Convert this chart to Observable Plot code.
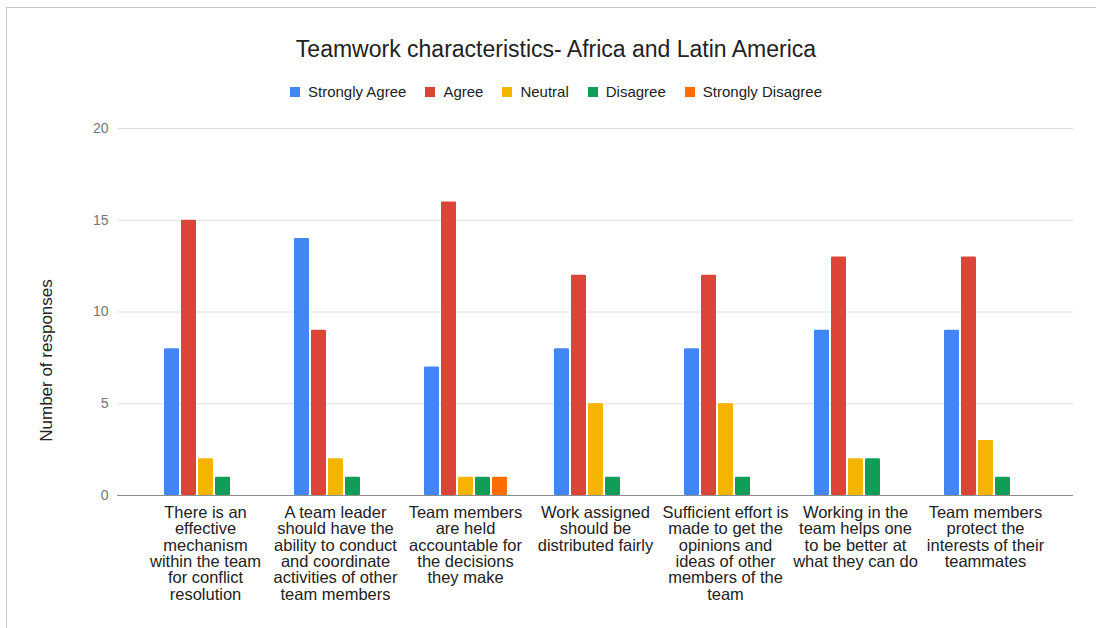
<!DOCTYPE html>
<html>
<head>
<meta charset="utf-8">
<script src="https://cdn.jsdelivr.net/npm/d3@7"></script>
<script src="https://cdn.jsdelivr.net/npm/@observablehq/plot@0.6"></script>
<style>
  body { margin: 0; background: #fff; font-family: "Liberation Sans", Arial, sans-serif; }
  #wrap { position: relative; width: 1096px; height: 628px; overflow: hidden; background: #fff; }
  #wrap svg { position: absolute; left: 0; top: 0; }
  #frame { position: absolute; left: 6px; top: 7px; width: 1200px; height: 800px;
           border-left: 1.5px solid #c6c6c6; border-top: 1.5px solid #c6c6c6; }
  #title { position: absolute; left: 0; top: 38px; width: 1112px; text-align: center;
           font-size: 23px; line-height: 23px; color: #222; }
  #legend { position: absolute; left: 0; top: 85px; width: 1112px; display: flex;
            justify-content: center; align-items: center; font-size: 15px; line-height: 14px; color: #222; }
  #legend .item { display: flex; align-items: center; margin: 0 9.5px; }
  #legend .sw { width: 10px; height: 10px; margin-right: 8px; }
</style>
</head>
<body>
<div id="wrap">
  <div id="frame"></div>
  <div id="title">Teamwork characteristics- Africa and Latin America</div>
  <div id="legend"></div>
</div>
<script>
// Survey statements (tick labels, wrapped as shown under each group)
const categories = [
  "There is an\neffective\nmechanism\nwithin the team\nfor conflict\nresolution",
  "A team leader\nshould have the\nability to conduct\nand coordinate\nactivities of other\nteam members",
  "Team members\nare held\naccountable for\nthe decisions\nthey make",
  "Work assigned\nshould be\ndistributed fairly",
  "Sufficient effort is\nmade to get the\nopinions and\nideas of other\nmembers of the\nteam",
  "Working in the\nteam helps one\nto be better at\nwhat they can do",
  "Team members\nprotect the\ninterests of their\nteammates"
];

const series = ["Strongly Agree", "Agree", "Neutral", "Disagree", "Strongly Disagree"];
const colors = ["#4285f4", "#db4437", "#f4b400", "#0f9d58", "#ff6d01"];

// Number of responses per statement, one array per answer
const stronglyAgree    = [8, 14, 7, 8, 8, 9, 9];
const agree            = [15, 9, 16, 12, 12, 13, 13];
const neutral          = [2, 2, 1, 5, 5, 2, 3];
const disagree         = [1, 1, 1, 1, 1, 2, 1];
const stronglyDisagree = [0, 0, 1, 0, 0, 0, 0];

const yTicks = [0, 5, 10, 15, 20];
const yTitle = "Number of responses";

const valuesBySeries = [stronglyAgree, agree, neutral, disagree, stronglyDisagree];
const rows = categories.flatMap((category, i) =>
  series.map((s, j) => ({category, series: s, value: valuesBySeries[j][i]}))
);

// Shared layout
const W = 1096, H = 628;
const margins = {marginTop: 128, marginBottom: 133, marginLeft: 117, marginRight: 23};
const groupBand = {type: "band", paddingInner: 0.338, paddingOuter: 0.338, align: 0.5};
const font = '"Liberation Sans", Arial, sans-serif';

// Legend
const legend = document.getElementById("legend");
series.forEach((s, i) => {
  const item = document.createElement("div");
  item.className = "item";
  const sw = document.createElement("span");
  sw.className = "sw";
  sw.style.background = colors[i];
  const label = document.createElement("span");
  label.textContent = s;
  item.append(sw, label);
  legend.append(item);
});

// Background layer: grid, baseline, value axis and statement labels
const back = Plot.plot({
  width: W, height: H, ...margins,
  style: {fontFamily: font, background: "transparent"},
  x: {domain: categories, ...groupBand, axis: null},
  y: {domain: [0, 20], axis: null},
  marks: [
    Plot.ruleY(yTicks.filter(d => d > 0), {stroke: "#dedede", strokeWidth: 1}),
    Plot.ruleY([0], {stroke: "#8c8c8c", strokeWidth: 1.2}),
    Plot.text(yTicks, {
      y: d => d, text: d => String(d), frameAnchor: "left", textAnchor: "end",
      dx: -9, fontSize: 14, fill: "#757575"
    }),
    Plot.text(categories, {
      x: d => d, text: d => d, frameAnchor: "bottom", lineAnchor: "top",
      dy: 11, fontSize: 16.5, lineHeight: 0.99, fill: "#222"
    }),
    Plot.text([yTitle], {
      text: d => d, frameAnchor: "left", textAnchor: "middle", rotate: -90,
      dx: -71, dy: 48.5, fontSize: 17, fill: "#222"
    })
  ]
});

// Bars, grouped by statement
const bars = Plot.plot({
  width: W, height: H, ...margins,
  style: {fontFamily: font, background: "transparent"},
  fx: {domain: categories, ...groupBand, axis: null, label: null},
  x: {domain: series, paddingInner: 0.13, paddingOuter: 0.02, axis: null},
  y: {domain: [0, 20], axis: null},
  color: {domain: series, range: colors},
  marks: [
    Plot.barY(rows, {fx: "category", x: "series", y: "value", fill: "series", rx: 1.2})
  ]
});

const wrap = document.getElementById("wrap");
wrap.insertBefore(bars, wrap.firstChild);
wrap.insertBefore(back, wrap.firstChild);
</script>
</body>
</html>
